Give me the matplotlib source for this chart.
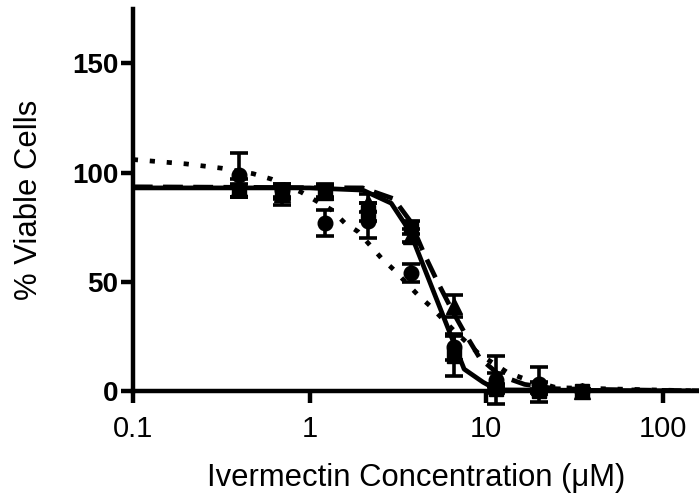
import numpy as np
import matplotlib.pyplot as plt
from matplotlib.ticker import FixedLocator, FixedFormatter, NullLocator

plt.rcParams['font.family'] = ['Liberation Sans', 'DejaVu Sans']

# ivermectin concentrations (uM), 1.75-fold dilutions
conc = [0.4, 0.7, 1.22, 2.13, 3.73, 6.53, 11.43, 20, 35]

# three replicate experiments, % viable cells (mean, sem)
circ_y = [99, 92, 77, 78, 54, 20, 5, 3, 0]
circ_err = [10, 3, 6, 8, 4, 6, 11, 8, 0]
sq_y = [92, 91, 92, 82, 75, 16, 1, 0, 0]
sq_err = [3, 3, 3, 4, 3, 9, 2, 1, 0]
tri_y = [93, 90, 91, 86, 71, 39, 5, 2, 0]
tri_err = [4, 5, 3, 4, 3, 5, 3, 2, 0]

# fitted curves
fit_circ_x = [0.1, 0.2, 0.32, 0.48, 0.61, 0.9, 1.33, 1.58, 1.88, 2.54, 3.0, 4.1, 4.8, 6.5, 9.1, 13.1, 16.5, 25, 160]
fit_circ_y = [106, 104, 102, 99.5, 97, 91, 83, 77, 73, 61, 55.5, 44, 39, 28, 17, 8.6, 5.5, 1.5, 0]
fit_sq_x = [0.1, 1.0, 2.0, 2.9, 3.7, 7.5, 9.6, 11.5, 160]
fit_sq_y = [93, 93, 92, 86, 73, 10, 4, 0.5, 0]
fit_tri_x = [0.1, 2.0, 3.0, 3.7, 4.5, 5.3, 6.5, 7.5, 9.2, 12, 16.5, 25, 160]
fit_tri_y = [93.5, 93, 88, 78, 62, 50, 36, 27, 15, 7, 3, 1, 0]

xticks = [0.1, 1, 10, 100]
xticklabels = ['0.1', '1', '10', '100']
yticks = [0, 50, 100, 150]

fig = plt.figure(figsize=(6.99, 4.93), dpi=100)
ax = fig.add_axes([0.19, 0.207, 0.81, 0.775])

lw = 3.4
ax.plot(fit_circ_x, fit_circ_y, color='black', lw=lw, dashes=(1.1, 2.5),
        dash_capstyle='butt', zorder=2)
ax.plot(fit_tri_x, fit_tri_y, color='black', lw=lw, dashes=(4.2, 2.2),
        dash_capstyle='butt', zorder=2)
ax.plot(fit_sq_x, fit_sq_y, color='black', lw=lw, solid_capstyle='butt', zorder=2)

for y, err, mk, ms in [(circ_y, circ_err, 'o', 10.5),
                       (tri_y, tri_err, '^', 11.5),
                       (sq_y, sq_err, 's', 10)]:
    cont = ax.errorbar(conc, y, yerr=err, marker=mk, markersize=ms,
                       color='black', ecolor='black', elinewidth=2.6,
                       capsize=6.5, capthick=2.6, linestyle='none', zorder=3)
    for a in cont.get_children():
        a.set_clip_on(False)

ax.set_xscale('log')
ax.set_xlim(0.1, 160)
ax.set_ylim(0, 175)

ax.xaxis.set_major_locator(FixedLocator(xticks))
ax.xaxis.set_major_formatter(FixedFormatter(xticklabels))
ax.xaxis.set_minor_locator(NullLocator())
ax.set_yticks(yticks)

for s in ['top', 'right']:
    ax.spines[s].set_visible(False)
for s in ['left', 'bottom']:
    ax.spines[s].set_linewidth(3.2)

ax.tick_params(axis='both', which='major', direction='out', length=8.5, width=3.2)
ax.tick_params(axis='x', labelsize=21, pad=9)
ax.tick_params(axis='y', labelsize=20, pad=2)
for lab in ax.get_yticklabels():
    lab.set_fontweight('bold')

ax.set_ylabel('% Viable Cells', fontsize=22.3, labelpad=20)
ax.set_xlabel('Ivermectin Concentration (\u03bcM)', fontsize=22.3, labelpad=14)

fig.savefig('out.png', dpi=100)
